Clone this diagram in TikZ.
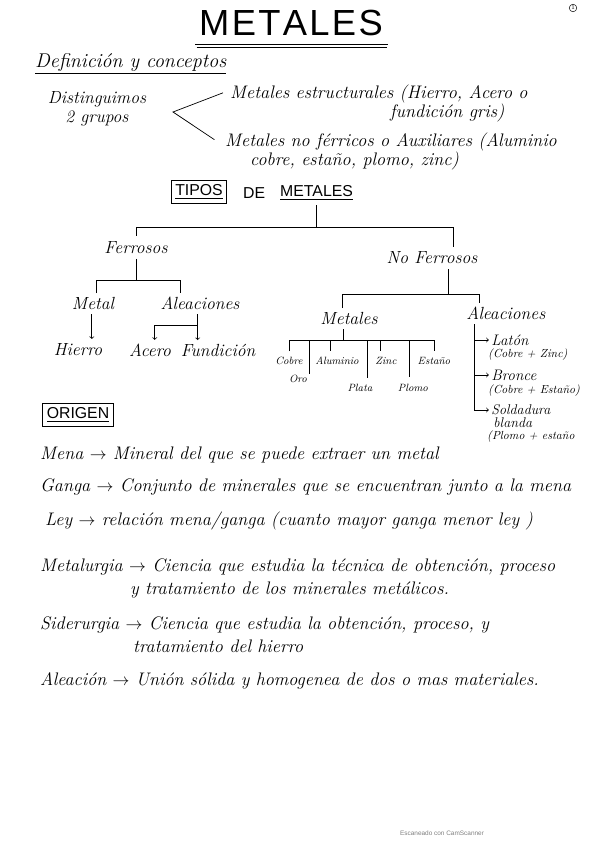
\documentclass[tikz,border=0pt]{standalone}
\usepackage{fontspec}
\usepackage{amsmath}
\usetikzlibrary{positioning}
\newfontfamily\letraimp{Liberation Sans}
\tikzset{
  texto/.style={font=\itshape\fontsize{15.5}{18}\selectfont, inner sep=0pt, anchor=west},
  hoja/.style={font=\itshape\fontsize{15}{17}\selectfont, inner sep=1pt},
  hojita/.style={font=\itshape\fontsize{9}{11}\selectfont, inner sep=1pt},
  nota/.style={font=\itshape\fontsize{10}{12}\selectfont, inner sep=0pt, anchor=west},
  mayus/.style={font=\letraimp\fontsize{13.5}{15}\selectfont, inner sep=0pt},
  caja/.style={draw, line width=0.7pt, inner sep=3.5pt},
  rama/.style={line width=0.6pt},
  flecha/.style={line width=0.6pt, ->},
}
\begin{document}
\begin{tikzpicture}[x=0.03cm, y=-0.03cm]
\useasboundingbox (0,0) rectangle (599,848);

% titulo
\node[font=\letraimp\fontsize{31}{36}\selectfont, inner sep=0pt] (titulo) at (291,23) {M\kern2pt E\kern2pt T\kern2pt A\kern2pt L\kern2pt E\kern2pt S};
\draw[line width=0.9pt] ([xshift=-3pt,yshift=-7pt]titulo.south west) -- ([xshift=4pt,yshift=-7pt]titulo.south east);
\draw[line width=0.9pt] ([xshift=-2pt,yshift=-10pt]titulo.south west) -- ([xshift=3pt,yshift=-10pt]titulo.south east);
\node[circle, draw, inner sep=0.6pt, font=\fontsize{5}{6}\selectfont] (pagina) at (573,8) {1};

% definicion y conceptos
\node[texto, font=\itshape\fontsize{17}{20}\selectfont] (definicion) at (35,63) {Definición y conceptos};
\draw[line width=1.2pt] ([yshift=-1pt]definicion.south west) -- ([yshift=-1pt]definicion.south east);
\node[hoja, align=center, font=\itshape\fontsize{15}{16}\selectfont] (grupos) at (97,109) {Distinguimos\\2 grupos};
\node[texto] (estruct) at (230,94) {Metales estructurales (Hierro, Acero o};
\node[texto] (estruct2) at (390,113) {fundición gris)};
\node[texto] (auxil) at (225,142) {Metales no férricos o Auxiliares (Aluminio};
\node[texto] (auxil2) at (250,161) {cobre, estaño, plomo, zinc)};
\coordinate (vertice) at (173,112);
\draw[rama] ([xshift=-6pt,yshift=1pt]estruct.west) -- (vertice) -- ([xshift=-9pt,yshift=2pt]auxil.west);

% tipos de metales
\node[mayus, caja] (tipos) at (199,192) {\underline{TIPOS}};
\node[mayus, anchor=west] (de) at (243,193) {DE};
\node[mayus, anchor=west] (metales) at (280,193) {\underline{METALES}};

\coordinate (nivel1) at (0,227);
\node[hoja] (ferrosos) at (136,248) {Ferrosos};
\node[hoja] (noferrosos) at (432,258) {No Ferrosos};
\draw[rama] ([yshift=-4pt]metales.south) -- (metales.south |- nivel1);
\draw[rama] ([yshift=4pt]ferrosos.north) -- (ferrosos.north |- nivel1)
  -- ([xshift=18pt]noferrosos.north |- nivel1) -- ([xshift=18pt,yshift=3pt]noferrosos.north);

% ferrosos
\coordinate (nivel2) at (0,280);
\node[hoja] (metal) at (93,303) {Metal};
\node[hoja] (aleafe) at (200,303) {Aleaciones};
\draw[rama] ([yshift=-3pt]ferrosos.south) -- (ferrosos.south |- nivel2);
\draw[rama] ([xshift=3pt,yshift=2pt]metal.north) -- ([xshift=3pt]metal.north |- nivel2)
  -- ([xshift=-17pt]aleafe.north |- nivel2) -- ([xshift=-17pt,yshift=2pt]aleafe.north);
\node[hoja] (hierro) at (78,350) {Hierro};
\node[hoja] (acero) at (150,350) {Acero};
\node[hoja] (fundicion) at (218,350) {Fundición};
\draw[flecha] ([xshift=-1pt,yshift=-3pt]metal.south) -- ([xshift=-1pt,yshift=3pt]metal.south |- hierro.north);
\coordinate (nivel3) at (0,325);
\draw[flecha] ([xshift=-2pt,yshift=-3pt]aleafe.south) -- ([xshift=-2pt,yshift=2pt]aleafe.south |- fundicion.north);
\draw[flecha] ([xshift=-2pt]aleafe.south |- nivel3) -- ([xshift=4pt]acero.north |- nivel3) -- ([xshift=4pt,yshift=2pt]acero.north);

% no ferrosos
\coordinate (nivel4) at (0,294);
\node[hoja] (metalesnf) at (349,318) {Metales};
\node[hoja, anchor=west] (aleanf) at (465,313) {Aleaciones};
\draw[rama] ([xshift=14pt,yshift=-3pt]noferrosos.south) -- ([xshift=14pt]noferrosos.south |- nivel4);
\draw[rama] ([xshift=-6pt,yshift=2pt]metalesnf.north) -- ([xshift=-6pt]metalesnf.north |- nivel4)
  -- ([xshift=12pt]aleanf.north west |- nivel4) -- ([xshift=12pt,yshift=2pt]aleanf.north west);

% metales no ferrosos
\coordinate (nivel5) at (0,340);
\draw[rama] ([xshift=-5pt,yshift=-3pt]metalesnf.south) -- ([xshift=-5pt]metalesnf.south |- nivel5);
\node[hojita] (cobre) at (289,361) {Cobre};
\node[hojita] (aluminio) at (337,361) {Aluminio};
\node[hojita] (zinc) at (386,361) {Zinc};
\node[hojita] (estano) at (434,361) {Estaño};
\node[hojita] (oro) at (298,379) {Oro};
\node[hojita] (plata) at (360,388) {Plata};
\node[hojita] (plomo) at (413,388) {Plomo};
\draw[rama] ([yshift=4pt]cobre.north) -- (cobre.north |- nivel5) -- (estano.north |- nivel5) -- ([yshift=4pt]estano.north);
\foreach \h/\dx/\dy in {oro/10pt/0pt, aluminio/-6pt/4pt, plata/6pt/4pt, zinc/-5pt/4pt, plomo/-3pt/5pt}
  \draw[rama] ([xshift=\dx]\h.north |- nivel5) -- ([xshift=\dx,yshift=\dy]\h.north);

% aleaciones no ferrosas
\node[hoja, anchor=west, font=\itshape\fontsize{13}{15}\selectfont] (laton) at (490,340) {Latón};
\node[nota] (laton2) at (488,355) {(Cobre + Zinc)};
\node[hoja, anchor=west, font=\itshape\fontsize{13}{15}\selectfont] (bronce) at (490,375) {Bronce};
\node[nota] (bronce2) at (488,391) {(Cobre + Estaño)};
\node[hoja, anchor=west, font=\itshape\fontsize{12}{14}\selectfont] (soldadura) at (490,410) {Soldadura};
\node[hoja, anchor=west, font=\itshape\fontsize{12}{14}\selectfont] (blanda) at (492,423) {blanda};
\node[nota] (soldadura2) at (487,437) {(Plomo + estaño};
\coordinate (lista) at ([xshift=8pt,yshift=-3pt]aleanf.south west);
\draw[rama] (lista) -- (lista |- soldadura.west);
\foreach \n in {laton, bronce, soldadura}
  \draw[flecha] (lista |- \n.west) -- ([xshift=-1pt]\n.west);

% origen
\node[mayus, caja] (origen) at (78,415) {\underline{ORIGEN}};
\node[texto] (mena) at (40,455) {Mena $\rightarrow$ Mineral del que se puede extraer un metal};
\node[texto] (ganga) at (40,487) {Ganga $\rightarrow$ Conjunto de minerales que se encuentran junto a la mena};
\node[texto] (ley) at (45,521) {Ley $\rightarrow$ relación mena/ganga (cuanto mayor ganga menor ley )};
\node[texto] (metalurgia) at (40,567) {Metalurgia $\rightarrow$ Ciencia que estudia la técnica de obtención, proceso};
\node[texto] (metalurgia2) at (130,590) {y tratamiento de los minerales metálicos.};
\node[texto] (siderurgia) at (40,625) {Siderurgia $\rightarrow$ Ciencia que estudia la obtención, proceso, y};
\node[texto] (siderurgia2) at (133,646) {tratamiento del hierro};
\node[texto] (aleacion) at (40,681) {Aleación $\rightarrow$ Unión sólida y homogenea de dos o mas materiales.};

\node[font=\letraimp\fontsize{5.5}{6}\selectfont, text=gray, inner sep=0pt] (marca) at (442,833) {Escaneado con CamScanner};
\end{tikzpicture}
\end{document}
